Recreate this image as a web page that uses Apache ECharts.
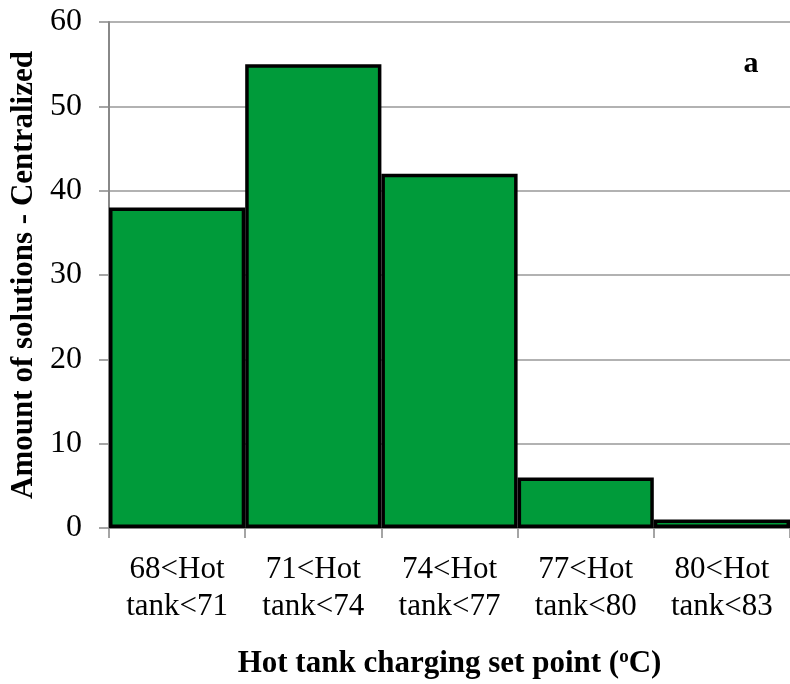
<!DOCTYPE html>
<html><head><meta charset="utf-8">
<script src="https://cdn.jsdelivr.net/npm/echarts@6/dist/echarts.min.js"></script>
<style>html,body{margin:0;padding:0;background:#fff}#c{width:790px;height:684px}</style>
</head><body><div id="c"></div>
<script>
const categories = ['68<Hot\ntank<71','71<Hot\ntank<74','74<Hot\ntank<77','77<Hot\ntank<80','80<Hot\ntank<83'];
const counts = [38, 55, 42, 6, 1];
const yTicks = {min: 0, max: 60, interval: 10};
const chart = echarts.init(document.getElementById('c'));
const serif = '"Liberation Serif","Times New Roman",serif';
chart.setOption({
  animation: false,
  grid: {left: 106, top: 22, width: 686, height: 511, containLabel: false},
  xAxis: {
    type: 'category', data: categories,
    axisLine: {lineStyle: {color: '#888', width: 2}},
    axisTick: {show: true, length: 10, lineStyle: {color: '#888', width: 1.5}, alignWithLabel: false},
    axisLabel: {color: '#000', fontFamily: serif, fontSize: 31, lineHeight: 37, margin: 23, interval: 0},
    name: '{b|Hot tank charging set point (}{s|o}{b|C)}',
    nameLocation: 'middle', nameGap: 120,
    nameTextStyle: {rich: {
      b: {fontFamily: serif, fontWeight: 'bold', fontSize: 31, color: '#000'},
      s: {fontFamily: serif, fontWeight: 'bold', fontSize: 19, color: '#000', verticalAlign: 'top', padding: [0,0,12,0]}
    }}
  },
  yAxis: {
    type: 'value', min: yTicks.min, max: yTicks.max, interval: yTicks.interval,
    axisLine: {show: true, lineStyle: {color: '#888', width: 2}},
    axisTick: {show: true, length: 10, lineStyle: {color: '#888', width: 1.5}},
    axisLabel: {color: '#000', fontFamily: serif, fontSize: 32, margin: 27},
    splitLine: {lineStyle: {color: '#999', width: 1.5}},
    name: 'Amount of solutions - Centralized',
    nameLocation: 'middle', nameGap: 70,
    nameTextStyle: {fontFamily: serif, fontWeight: 'bold', fontSize: 31, color: '#000'}
  },
  series: [{
    type: 'bar', data: counts, barCategoryGap: 0,
    itemStyle: {color: '#009B3A', borderColor: '#000', borderWidth: 3.5}
  }],
  graphic: [{
    type: 'text', x: 751, y: 64,
    style: {text: 'a', fontFamily: serif, fontWeight: 'bold', fontSize: 30, fill: '#000', textAlign: 'center', textVerticalAlign: 'middle'}
  }]
});
</script></body></html>
